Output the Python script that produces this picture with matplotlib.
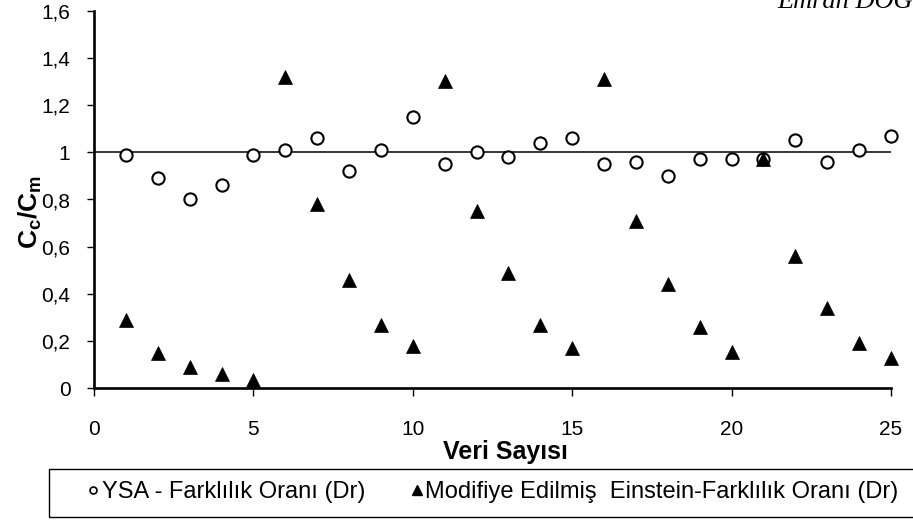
import matplotlib
matplotlib.use("Agg")
import matplotlib.pyplot as plt
from matplotlib.patches import Rectangle
from matplotlib.ticker import FuncFormatter

plt.rcParams["font.family"] = ["Liberation Sans", "DejaVu Sans"]
plt.rcParams["mathtext.fontset"] = "custom"
plt.rcParams["mathtext.rm"] = "Liberation Sans"
plt.rcParams["mathtext.bf"] = "Liberation Sans:bold"
plt.rcParams["mathtext.it"] = "Liberation Sans:italic"

# Data: sample number vs. ratio of computed to measured concentration
veri = list(range(1, 26))
ysa = [0.99, 0.89, 0.80, 0.86, 0.99, 1.01, 1.06, 0.92, 1.01, 1.15,
       0.95, 1.00, 0.98, 1.04, 1.06, 0.95, 0.96, 0.90, 0.97, 0.97,
       0.97, 1.05, 0.96, 1.01, 1.07]
einstein = [0.29, 0.15, 0.09, 0.06, 0.035, 1.32, 0.78, 0.46, 0.27, 0.18,
            1.30, 0.75, 0.49, 0.27, 0.17, 1.31, 0.71, 0.44, 0.26, 0.155,
            0.97, 0.56, 0.34, 0.19, 0.13]
x_ticks = [0, 5, 10, 15, 20, 25]
y_ticks = [0, 0.2, 0.4, 0.6, 0.8, 1.0, 1.2, 1.4, 1.6]
ref_level = 1.0

label_ysa = "YSA - Farklılık Oranı (Dr)"
label_ein = "Modifiye Edilmiş  Einstein-Farklılık Oranı (Dr)"

W, H = 913, 520
fig = plt.figure(figsize=(W / 100, H / 100), dpi=100)
ax = fig.add_axes([94 / W, 1 - 388.3 / H, (891 - 94) / W, (388.3 - 10.7) / H])

ax.axhline(ref_level, color="black", lw=1.1, zorder=1)
h1, = ax.plot(veri, ysa, ls="none", marker="o", ms=8.8, mfc="white",
              mec="black", mew=1.5, zorder=3, clip_on=False)
h2, = ax.plot(veri, einstein, ls="none", marker="^", ms=10.3, mfc="black",
              mec="black", mew=0.5, zorder=4, clip_on=False)

ax.set_xlim(0, 25)
ax.set_ylim(0, 1.6)
ax.set_xticks(x_ticks)
ax.set_yticks(y_ticks)
ax.yaxis.set_major_formatter(FuncFormatter(lambda v, p: f"{v:g}".replace(".", ",")))

for s in ("top", "right"):
    ax.spines[s].set_visible(False)
for s in ("left", "bottom"):
    ax.spines[s].set_linewidth(1.9)

ax.tick_params(axis="y", direction="out", length=5, width=1.0, pad=12, labelsize=15)
ax.tick_params(axis="x", direction="out", length=6, width=1.0, pad=17, labelsize=15)

fig.text(505 / W, 1 - 452 / H, "Veri Sayısı", ha="center", va="center",
         fontsize=18, fontweight="bold")
fig.text(30 / W, 1 - 212 / H, r"$\mathbf{C_c/C_m}$", ha="center", va="center",
         rotation=90, fontsize=19)

fig.text(777 / W, 1 - 8 / H, "Emran DOĞ", ha="left", va="baseline",
         fontsize=19, fontstyle="italic", family="Liberation Serif")

# Legend frame across the bottom
fig.patches.append(Rectangle((49 / W, 1 - 517 / H), (930 - 49) / W, 48 / H,
                             transform=fig.transFigure, fill=False,
                             edgecolor="black", lw=1.0))

lh1 = plt.Line2D([], [], ls="none", marker="o", ms=5, mfc="white", mec="black", mew=1.2)
lh2 = plt.Line2D([], [], ls="none", marker="^", ms=7.5, mfc="black", mec="black")
fig.legend([lh1, lh2], [label_ysa, label_ein], loc="center",
           bbox_to_anchor=(493.5 / W, 1 - 492 / H), ncol=2, frameon=False,
           fontsize=17, handlelength=0.4, handletextpad=0.15,
           columnspacing=2.0, borderpad=0, borderaxespad=0)

fig.savefig("out.png", dpi=100)
